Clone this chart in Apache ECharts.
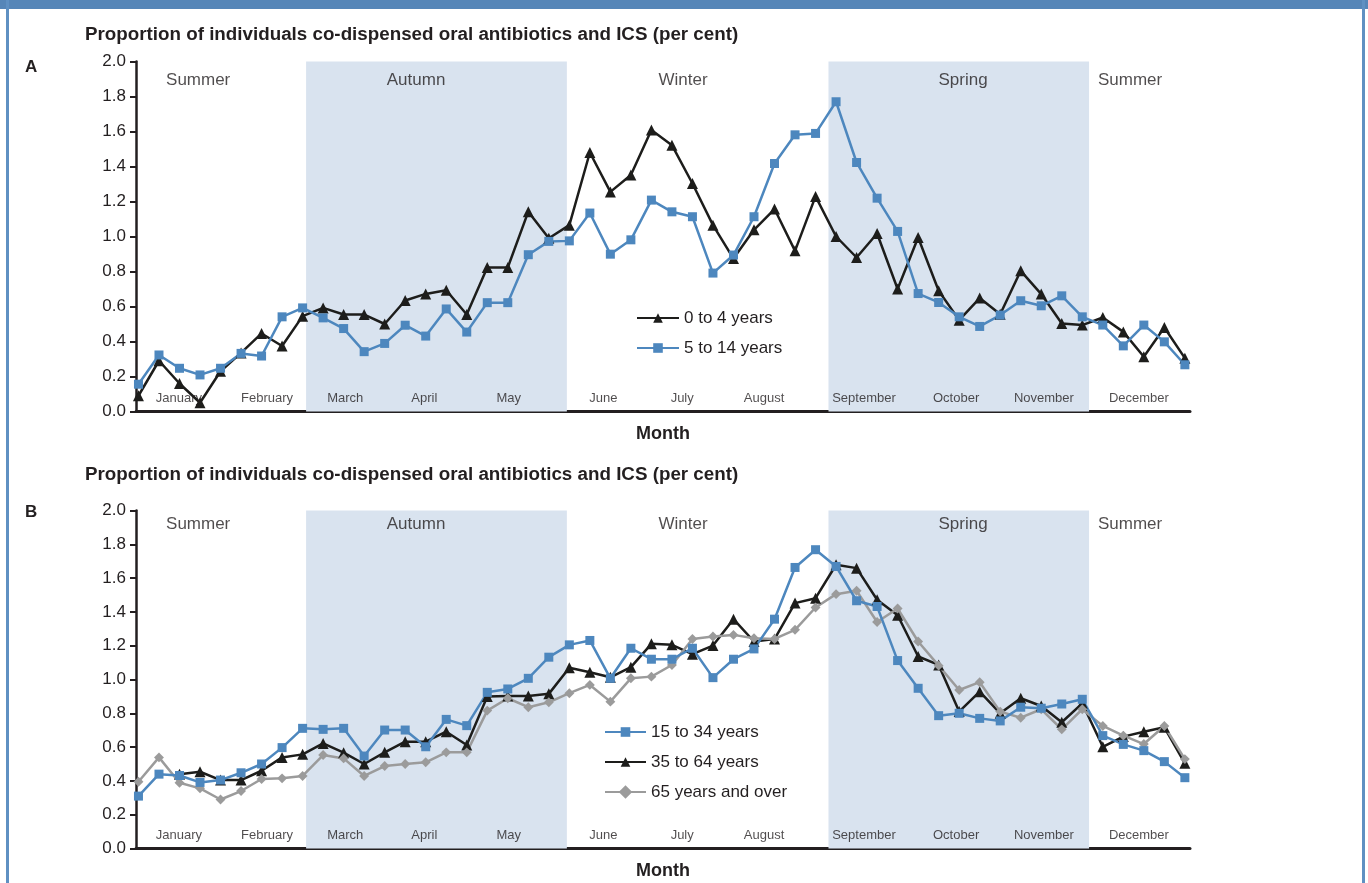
<!DOCTYPE html>
<html><head><meta charset="utf-8">
<script src="https://cdn.jsdelivr.net/npm/echarts@6/dist/echarts.min.js"></script>
<style>html,body{margin:0;padding:0;background:#fff}#c{width:1368px;height:883px}</style>
</head><body><div id="c"></div>
<script>
const panelTitle = 'Proportion of individuals co-dispensed oral antibiotics and ICS (per cent)';
const axisName = 'Month';
const months = ['January','February','March','April','May','June','July','August','September','October','November','December'];
const monthPos = [1.97, 6.27, 10.08, 13.93, 18.05, 22.66, 26.5, 30.49, 35.36, 39.85, 44.13, 48.76];
const seasons = ['Summer','Autumn','Winter','Spring','Summer'];
const seasonPos = [2.91, 13.53, 26.54, 40.19, 48.33];
const shadedBands = [[8.17, 20.88], [33.63, 46.33]];

const namesA = ['0 to 4 years', '5 to 14 years'];
const a0to4 = [0.09,0.29,0.16,0.05,0.23,0.335,0.446,0.374,0.545,0.592,0.554,0.554,0.50,0.634,0.672,0.693,0.554,0.823,0.823,1.142,0.99,1.065,
  1.48,1.255,1.351,1.608,1.522,1.303,1.065,0.874,1.038,1.157,0.918,1.229,1.0,0.88,1.017,0.70,
  0.994,0.69,0.522,0.648,0.556,0.804,0.671,0.503,0.494,0.537,0.455,0.313,0.48,0.305];
const a5to14 = [0.156,0.323,0.247,0.209,0.247,0.332,0.317,0.541,0.592,0.535,0.474,0.342,0.389,0.493,0.431,0.586,0.454,0.622,0.622,0.896,0.972,0.975,
  1.134,0.899,0.981,1.208,1.141,1.113,0.791,0.894,1.113,1.417,1.581,1.589,1.770,1.423,1.219,1.029,
  0.674,0.623,0.541,0.486,0.551,0.633,0.604,0.661,0.541,0.494,0.375,0.494,0.398,0.267];

const namesB = ['15 to 34 years', '35 to 64 years', '65 years and over'];
const b15to34 = [0.31,0.44,0.432,0.391,0.405,0.448,0.50,0.597,0.711,0.705,0.711,0.547,0.701,0.701,0.602,0.764,0.727,0.924,0.944,1.007,1.132,1.205,
  1.231,1.007,1.185,1.12,1.12,1.185,1.011,1.12,1.181,1.357,1.663,1.768,1.669,1.466,1.432,1.112,
  0.948,0.786,0.80,0.770,0.755,0.836,0.83,0.855,0.883,0.668,0.616,0.579,0.514,0.419];
const b35to64 = [null,null,0.44,0.454,0.405,0.405,0.46,0.539,0.557,0.622,0.567,0.50,0.569,0.632,0.632,0.691,0.612,0.899,0.903,0.903,0.915,1.07,
  1.043,1.013,1.073,1.211,1.205,1.15,1.201,1.357,1.225,1.239,1.452,1.481,1.679,1.659,1.472,1.38,
  1.136,1.086,0.81,0.928,0.80,0.889,0.843,0.747,0.859,0.602,0.662,0.691,0.717,0.504];
const b65plus = [0.395,0.539,0.389,0.356,0.29,0.34,0.411,0.415,0.429,0.553,0.533,0.429,0.488,0.50,0.51,0.569,0.569,0.816,0.889,0.836,0.865,0.919,
  0.968,0.869,1.007,1.017,1.086,1.24,1.254,1.264,1.244,1.24,1.294,1.426,1.505,1.525,1.34,1.42,
  1.225,1.082,0.938,0.984,0.81,0.774,0.824,0.705,0.824,0.725,0.668,0.618,0.725,0.529];

const TXT = '#231f20', BLUE = '#4d87be', BLACK = '#1d1d1b', GREY = '#9b9b9b', BAND = '#d9e3ef';
const FONT = '"Liberation Sans", Arial, sans-serif';

function pts(arr) { return arr.map((v, i) => v == null ? null : [i, v]).filter(Boolean); }

function lineSeries(name, arr, g, color, symbol, size, extra) {
  return Object.assign({
    type: 'line', name: name, xAxisIndex: g, yAxisIndex: g, data: pts(arr),
    symbol: symbol, symbolSize: size, showSymbol: true,
    lineStyle: { color: color, width: 2.5 }, itemStyle: { color: color },
    z: 3, animation: false
  }, extra || {});
}

function panelDecor(g, seasonY) {
  return [
    { type: 'scatter', xAxisIndex: g, yAxisIndex: g, silent: true, z: 1, symbolSize: 0,
      itemStyle: { color: 'transparent' }, data: [[0, 0]], animation: false,
      markArea: { silent: true, itemStyle: { color: BAND }, z: 1,
        data: shadedBands.map(b => [{ xAxis: b[0] }, { xAxis: b[1] }]) } },
    { type: 'scatter', xAxisIndex: g, yAxisIndex: g, silent: true, z: 4, symbolSize: 1,
      itemStyle: { color: 'transparent' }, animation: false,
      data: seasons.map((s, i) => ({ name: s, value: [seasonPos[i], seasonY] })),
      label: { show: true, position: 'inside', formatter: '{b}', fontSize: 17, color: TXT, fontFamily: FONT } },
    { type: 'scatter', xAxisIndex: g, yAxisIndex: g, silent: true, z: 4, symbolSize: 1,
      itemStyle: { color: 'transparent' }, animation: false,
      data: months.map((m, i) => ({ name: m, value: [monthPos[i], 0.075] })),
      label: { show: true, position: 'inside', formatter: '{b}', fontSize: 13, color: TXT, fontFamily: FONT } }
  ];
}

function xAx(g) {
  return { type: 'value', gridIndex: g, min: -0.12, max: 51.25,
    axisLine: { show: true, onZero: false, lineStyle: { color: TXT, width: 3 } },
    axisTick: { show: false }, axisLabel: { show: false }, splitLine: { show: false },
    name: axisName, nameLocation: 'middle', nameGap: 14,
    nameTextStyle: { fontWeight: 'bold', fontSize: 18, color: TXT, fontFamily: FONT } };
}
function yAx(g) {
  return { type: 'value', gridIndex: g, min: 0, max: 2, interval: 0.2,
    axisLine: { show: true, onZero: false, lineStyle: { color: TXT, width: 2.5 } },
    axisTick: { show: true, length: 6, lineStyle: { color: TXT, width: 2 } },
    axisLabel: { fontSize: 17, color: TXT, margin: 10, fontFamily: FONT, formatter: v => v.toFixed(1) },
    splitLine: { show: false } };
}

const chart = echarts.init(document.getElementById('c'), null, { renderer: 'canvas' });
chart.setOption({
  animation: false,
  backgroundColor: '#fff',
  textStyle: { fontFamily: FONT },
  title: [
    { text: panelTitle, left: 80, top: 20, textStyle: { fontSize: 18.8, fontWeight: 'bold', color: TXT, fontFamily: FONT } },
    { text: panelTitle, left: 80, top: 460, textStyle: { fontSize: 18.8, fontWeight: 'bold', color: TXT, fontFamily: FONT } }
  ],
  grid: [
    { left: 136, right: 178, top: 61.5, height: 350 },
    { left: 136, right: 178, top: 510.5, height: 338 }
  ],
  xAxis: [xAx(0), xAx(1)],
  yAxis: [yAx(0), yAx(1)],
  legend: [
    { orient: 'vertical', left: 631, top: 303, itemWidth: 42, itemHeight: 12, itemGap: 10,
      data: namesA, textStyle: { fontSize: 17, color: TXT, lineHeight: 20, fontFamily: FONT } },
    { orient: 'vertical', left: 599, top: 717, itemWidth: 41, itemHeight: 12, itemGap: 10,
      data: namesB, textStyle: { fontSize: 17, color: TXT, lineHeight: 20, fontFamily: FONT } }
  ],
  graphic: [
    { type: 'rect', left: 0, top: 0, shape: { width: 1368, height: 9 }, style: { fill: '#5686b8' } },
    { type: 'rect', left: 6, top: 0, shape: { width: 3, height: 883 }, style: { fill: '#5f90c2' } },
    { type: 'rect', left: 1362, top: 0, shape: { width: 3, height: 883 }, style: { fill: '#5f90c2' } },
    { type: 'text', left: 25, top: 59, style: { text: 'A', font: 'bold 17px ' + FONT, fill: TXT } },
    { type: 'text', left: 25, top: 504, style: { text: 'B', font: 'bold 17px ' + FONT, fill: TXT } }
  ],
  series: [
    ...panelDecor(0, 1.895),
    lineSeries(namesA[0], a0to4, 0, BLACK, 'triangle', 11),
    lineSeries(namesA[1], a5to14, 0, BLUE, 'rect', 9),
    ...panelDecor(1, 1.92),
    lineSeries(namesB[1], b35to64, 1, BLACK, 'triangle', 11),
    lineSeries(namesB[2], b65plus, 1, GREY, 'rect', 7, { symbolRotate: 45 }),
    lineSeries(namesB[0], b15to34, 1, BLUE, 'rect', 9)
  ]
});
</script></body></html>
